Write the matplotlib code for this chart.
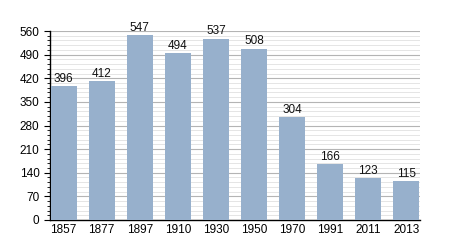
import matplotlib
matplotlib.use('Agg')
import matplotlib.pyplot as plt
from matplotlib.ticker import MultipleLocator

plt.rcParams['font.family'] = ['Liberation Sans', 'DejaVu Sans']

years = ['1857', '1877', '1897', '1910', '1930', '1950', '1970', '1991', '2011', '2013']
population = [396, 412, 547, 494, 537, 508, 304, 166, 123, 115]

barcolor = '#97b0cc'

fig = plt.figure(figsize=(4.5, 2.5), dpi=100)
ax = fig.add_axes([0.111, 0.12, 0.822, 0.756])

x = range(len(years))
bars = ax.bar(x, population, width=0.68, color=barcolor, zorder=3)
for xi, v in zip(x, population):
	ax.text(xi, v + 4, str(v), ha='center', va='bottom', fontsize=8.5, color='#111111', zorder=4)

ax.set_xlim(-0.36, len(years) - 0.64)
ax.set_ylim(0, 560)
ax.set_xticks(list(x))
ax.set_xticklabels(years, fontsize=8.5)
ax.yaxis.set_major_locator(MultipleLocator(70))
ax.yaxis.set_minor_locator(MultipleLocator(14))
ax.tick_params(axis='y', which='major', length=4, labelsize=8.5, direction='out')
ax.tick_params(axis='y', which='minor', length=2, direction='out')
ax.tick_params(axis='x', length=0, labelsize=8.5, pad=3)

ax.grid(axis='y', which='major', color='#b4b4b4', linewidth=0.8, zorder=0)
ax.grid(axis='y', which='minor', color='#e0e0e0', linewidth=0.6, zorder=0)

for s in ['top', 'right']:
	ax.spines[s].set_visible(False)
ax.spines['left'].set_linewidth(1.0)
ax.spines['bottom'].set_linewidth(1.0)

fig.savefig('out.png', dpi=100)
